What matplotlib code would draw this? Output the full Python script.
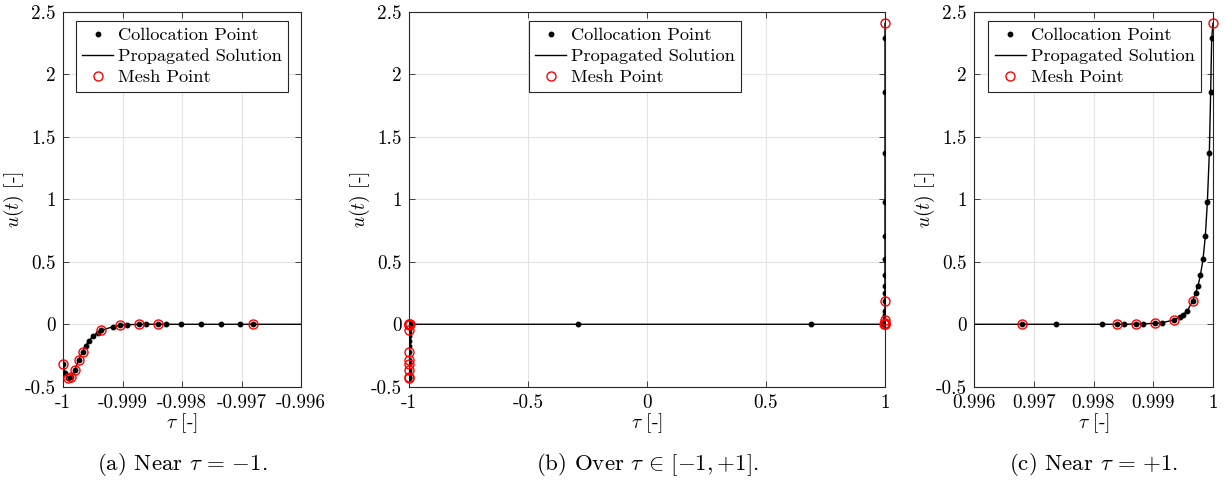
import numpy as np
import matplotlib
matplotlib.use('Agg')
import matplotlib.pyplot as plt

plt.rcParams['font.family'] = 'serif'
plt.rcParams['font.serif'] = ['cmr10', 'DejaVu Serif']
plt.rcParams['mathtext.fontset'] = 'cm'
plt.rcParams['axes.unicode_minus'] = False
plt.rcParams['axes.formatter.use_mathtext'] = True

# collocation points (tau, u)
coll_tau = [-1.0, -0.99996, -0.999923, -0.999861, -0.999799, -0.999739,
            -0.999672, -0.999621, -0.999564, -0.999492, -0.99942, -0.999358,
            -0.999157, -0.999035, -0.998918, -0.998717, -0.998605, -0.998399,
            -0.998275, -0.998023, -0.997683, -0.997337, -0.99703, -0.996807,
            -0.289, 0.688,
            0.996806, 0.997372, 0.99815, 0.998389, 0.998506, 0.998706,
            0.998822, 0.999028, 0.999139, 0.999344, 0.999445, 0.999505,
            0.999572, 0.999661, 0.999711, 0.99975, 0.999789, 0.999833,
            0.999872, 0.999906, 0.999939, 0.999961, 0.999978]
coll_u = [-0.317, -0.389, -0.432, -0.424, -0.362, -0.288,
          -0.221, -0.171, -0.131, -0.094, -0.067, -0.049,
          -0.019, -0.009, -0.003, -0.001, 0.0, 0.0,
          0.0, 0.0, 0.0, 0.0, 0.0, 0.0,
          0.0, 0.0,
          0.0, 0.0, 0.0, 0.0, 0.0, 0.002,
          0.003, 0.008, 0.011, 0.035, 0.056, 0.078,
          0.11, 0.187, 0.253, 0.309, 0.392, 0.52,
          0.707, 0.981, 1.373, 1.861, 2.288]

# mesh points
mesh_tau = [-1.0, -0.999923, -0.999861, -0.999799, -0.999739, -0.999672,
            -0.999358, -0.999035, -0.998717, -0.998399, -0.996807,
            0.996806, 0.998389, 0.998706, 0.999028, 0.999344, 0.999661, 1.0]
mesh_u = [-0.317, -0.432, -0.424, -0.362, -0.288, -0.221,
          -0.049, -0.009, -0.001, 0.0, 0.0,
          0.0, 0.0, 0.002, 0.008, 0.035, 0.187, 2.408]

# propagated solution = collocation points + final mesh point
prop_tau = coll_tau + [1.0]
prop_u = coll_u + [2.408]

yticks = [-0.5, 0, 0.5, 1, 1.5, 2, 2.5]
xticks_a = [-1, -0.999, -0.998, -0.997, -0.996]
xticks_b = [-1, -0.5, 0, 0.5, 1]
xticks_c = [0.996, 0.997, 0.998, 0.999, 1]
captions = [r'(a) Near $\tau\,=\,{-1}$.',
            r'(b) Over $\tau\,\in\,[-1,{+1}]$.',
            r'(c) Near $\tau\,=\,{+1}$.']

fig = plt.figure(figsize=(12.25, 4.88), dpi=100)
H = 0.7686
B = 0.2074
widths = [238, 476, 239]
axes = [fig.add_axes([63 / 1225, B, 238 / 1225, H]),
        fig.add_axes([409 / 1225, B, 476 / 1225, H]),
        fig.add_axes([974 / 1225, B, 239 / 1225, H])]
xtick_sets = [xticks_a, xticks_b, xticks_c]
legend_x = [0.5, 0.475, 0.505]

for ax, xt, cap, lx, wpx in zip(axes, xtick_sets, captions, legend_x, widths):
    ax.plot(coll_tau, coll_u, 'o', color='black', ms=3.2, mec='black',
            label='Collocation Point', zorder=3)
    ax.plot(prop_tau, prop_u, '-', color='black', lw=1.0,
            label='Propagated Solution', zorder=2)
    ax.plot(mesh_tau, mesh_u, 'o', mfc='none', mec='red', mew=1.0, ms=6.5,
            label='Mesh Point', zorder=4, clip_on=False)
    ax.set_xlim(xt[0], xt[-1])
    ax.set_ylim(-0.5, 2.5)
    ax.set_xticks(xt)
    ax.set_xticklabels([f'{t:g}' for t in xt])
    ax.set_yticks(yticks)
    ax.set_yticklabels([f'{t:g}' for t in yticks])
    ax.tick_params(direction='in', top=True, right=True, length=4,
                   width=0.6, color='#262626', labelsize=13.8, pad=5)
    ax.grid(True, color='#e3e3e3', lw=0.8)
    ax.set_axisbelow(True)
    for sp in ax.spines.values():
        sp.set_color('#262626')
        sp.set_linewidth(0.8)
    ax.set_xlabel(r'$\tau$ [-]', fontsize=14, labelpad=0)
    ax.set_ylabel(r'$u(t)$ [-]', fontsize=14)
    ax.yaxis.set_label_coords(-37 / wpx, 0.5)
    leg = ax.legend(loc='upper center', bbox_to_anchor=(lx, 0.985),
                    fontsize=13.2, fancybox=False, framealpha=1,
                    edgecolor='#262626', handlelength=1.7,
                    handletextpad=0.25, borderpad=0.35, labelspacing=0.28,
                    borderaxespad=0.2)
    leg.get_frame().set_linewidth(0.8)
    pos = ax.get_position()
    fig.text(pos.x0 + pos.width / 2, 1 - 465 / 488, cap, fontsize=16.5,
             ha='center', va='center')

fig.savefig('out.png', dpi=100, facecolor='white')
